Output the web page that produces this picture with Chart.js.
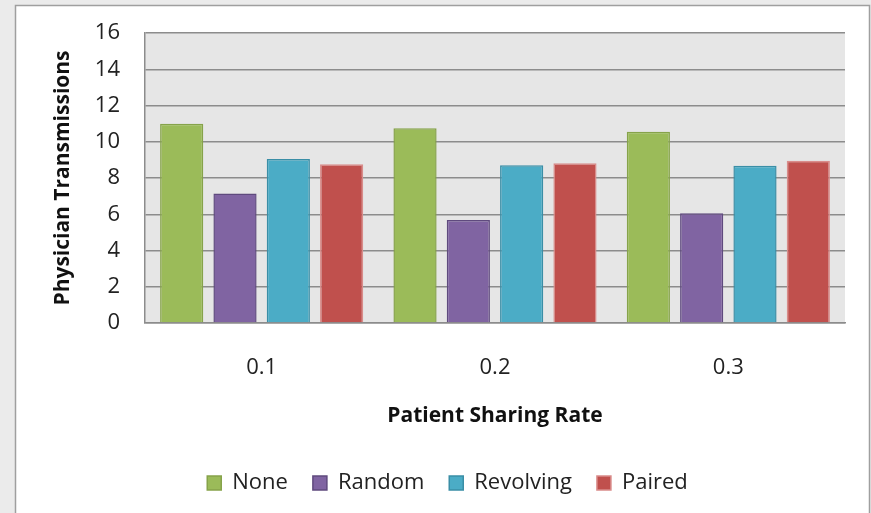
<!DOCTYPE html>
<html>
<head>
<meta charset="utf-8">
<script src="https://cdn.jsdelivr.net/npm/chart.js@4.4.1/dist/chart.umd.min.js"></script>
<style>
  html, body { margin: 0; padding: 0; background: #ebebeb; }
  #wrap { position: absolute; left: 0; top: 0; width: 871px; height: 513px; }
</style>
</head>
<body>
<div id="wrap"><canvas id="chart" width="871" height="513"></canvas></div>
<script>
const rates = ['0.1', '0.2', '0.3'];
const noneVals = [11.0, 10.75, 10.55];
const randomVals = [7.15, 5.68, 6.05];
const revolvingVals = [9.05, 8.7, 8.68];
const pairedVals = [8.76, 8.82, 8.95];

// white card behind the chart + gray plot area
const background = {
    id: 'background',
    beforeDraw(chart) {
        const ctx = chart.ctx;
        ctx.save();
        ctx.fillStyle = '#ebebeb';
        ctx.fillRect(0, 0, chart.width, chart.height);
        ctx.fillStyle = '#ffffff';
        ctx.fillRect(16, 6, 853, 520);
        ctx.strokeStyle = '#9f9f9f';
        ctx.lineWidth = 1.5;
        ctx.strokeRect(15.5, 5.5, 854, 520);
        const a = chart.chartArea;
        ctx.fillStyle = '#e6e6e6';
        ctx.fillRect(a.left, a.top, a.right - a.left, a.bottom - a.top);
        ctx.restore();
    }
};

const font = "'Open Sans', sans-serif";

new Chart(document.getElementById('chart').getContext('2d'), {
    type: 'bar',
    data: {
        labels: rates,
        datasets: [
            { label: 'None', data: noneVals, backgroundColor: '#9bbb59', borderColor: '#86a34a', borderWidth: 1.5 },
            { label: 'Random', data: randomVals, backgroundColor: '#8064a2', borderColor: '#5f4a7e', borderWidth: 1.5 },
            { label: 'Revolving', data: revolvingVals, backgroundColor: '#4bacc6', borderColor: '#3a8ea6', borderWidth: 1.5 },
            { label: 'Paired', data: pairedVals, backgroundColor: '#c0504d', borderColor: '#d98c8a', borderWidth: 1.5 }
        ]
    },
    options: {
        responsive: false,
        animation: false,
        devicePixelRatio: 1,
        categoryPercentage: 0.914,
        barPercentage: 0.81,
        layout: { padding: { top: 33, right: 26, left: 50, bottom: 9 } },
        plugins: {
            tooltip: { enabled: false },
            legend: {
                position: 'bottom',
                labels: {
                    font: { family: font, size: 22 },
                    color: '#222',
                    boxWidth: 14,
                    boxHeight: 14,
                    padding: 25
                }
            }
        },
        scales: {
            x: {
                grid: { display: false, drawTicks: false },
                border: { color: '#8c8c8c', width: 1.5 },
                ticks: { font: { family: font, size: 22 }, color: '#222', padding: 32 },
                title: {
                    display: true,
                    text: 'Patient Sharing Rate',
                    font: { family: font, size: 21, weight: 'bold' },
                    color: '#111',
                    padding: { top: 10, bottom: 18 }
                },
                afterFit(scale) { scale.height = 124; }
            },
            y: {
                min: 0,
                max: 16,
                grid: { color: '#8c8c8c', lineWidth: 1.5, drawTicks: false },
                border: { color: '#8c8c8c', width: 1.5 },
                ticks: { stepSize: 2, font: { family: font, size: 22 }, color: '#222', padding: 25 },
                title: {
                    display: true,
                    text: 'Physician Transmissions',
                    font: { family: font, size: 21, weight: 'bold' },
                    color: '#111',
                    padding: { top: 0, bottom: 0 }
                },
                afterFit(scale) {
                    scale.width = 95;
                    // tick padding would otherwise push the plot top down
                    scale.paddingTop = 13;
                    scale.paddingBottom = 13;
                }
            }
        }
    },
    plugins: [background]
});
</script>
</body>
</html>
